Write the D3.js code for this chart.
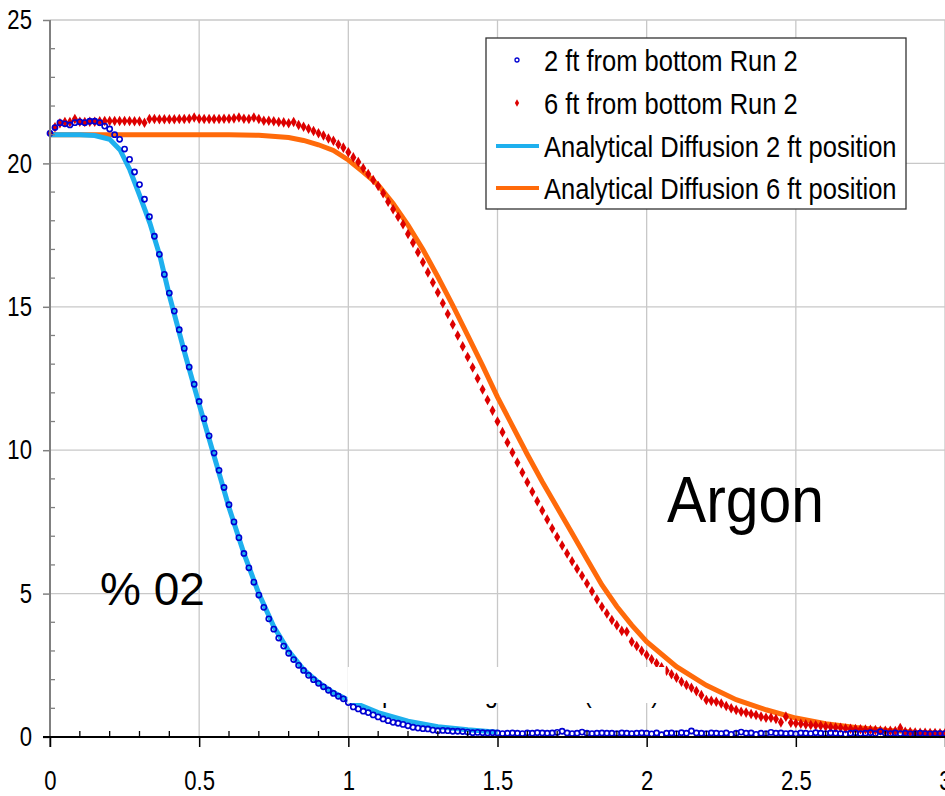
<!DOCTYPE html>
<html><head><meta charset="utf-8">
<script src="https://cdn.jsdelivr.net/npm/d3@7/dist/d3.min.js"></script>
<style>
html,body{margin:0;padding:0;background:#fff;}
svg{display:block;font-family:"Liberation Sans",Arial,sans-serif;}
</style></head>
<body><svg id="c" width="945" height="796"></svg>
<script>
// ---- data (time in hours, O2 %) ----
const sampleStep = 1/60; // one sample per minute
const ft2Run2 = [
21.05,21.25,21.42,21.38,21.34,21.42,21.45,21.42,21.47,21.47,
21.42,21.3,21.2,21.0,20.84,20.5,20.14,19.7,19.26,18.75,
18.14,17.46,16.83,16.13,15.48,14.85,14.2,13.55,12.9,12.3,
11.7,11.1,10.5,9.9,9.3,8.7,8.1,7.5,6.95,6.4,
5.9,5.4,4.95,4.52,4.12,3.76,3.45,3.17,2.92,2.7,
2.5,2.32,2.15,2.0,1.87,1.75,1.63,1.52,1.42,1.33,
1.2,1.05,0.98,0.9,0.85,0.77,0.7,0.63,0.57,0.51,
0.48,0.44,0.39,0.34,0.31,0.29,0.28,0.24,0.22,0.23,
0.22,0.2,0.2,0.19,0.17,0.15,0.16,0.15,0.14,0.15,
0.14,0.12,0.13,0.14,0.13,0.12,0.14,0.13,0.15,0.14,
0.13,0.14,0.16,0.2,0.14,0.12,0.13,0.17,0.13,0.12,
0.13,0.14,0.13,0.13,0.12,0.14,0.13,0.12,0.13,0.14,
0.13,0.11,0.14,0.08,0.13,0.14,0.12,0.15,0.13,0.21,
0.14,0.13,0.12,0.14,0.13,0.12,0.14,0.09,0.13,0.17,
0.13,0.14,0.09,0.13,0.12,0.16,0.13,0.14,0.12,0.13,
0.11,0.14,0.13,0.12,0.15,0.13,0.12,0.14,0.13,0.12,
0.1,0.13,0.14,0.12,0.13,0.15,0.12,0.19,0.13,0.12,
0.14,0.12,0.13,0.11,0.12,0.13,0.12,0.11,0.12,0.12,
0.12];
const ft6Run2 = [
21.05,21.26,21.4,21.44,21.44,21.55,21.45,21.44,21.45,21.45,
21.47,21.48,21.48,21.48,21.48,21.48,21.48,21.47,21.47,21.42,
21.55,21.55,21.54,21.54,21.54,21.54,21.55,21.55,21.56,21.6,
21.56,21.55,21.55,21.55,21.55,21.56,21.56,21.57,21.6,21.56,
21.55,21.6,21.55,21.49,21.49,21.47,21.44,21.43,21.4,21.44,
21.34,21.28,21.21,21.13,21.05,20.97,20.87,20.79,20.66,20.55,
20.39,20.21,20.05,19.83,19.63,19.42,19.21,18.96,18.66,18.4,
18.14,17.88,17.54,17.23,16.9,16.55,16.2,15.85,15.5,15.12,
14.75,14.38,14.0,13.62,13.25,12.88,12.5,12.12,11.75,11.38,
11.0,10.63,10.27,9.92,9.57,9.22,8.88,8.55,8.22,7.9,
7.58,7.27,6.97,6.68,6.4,6.13,5.87,5.62,5.35,5.08,
4.8,4.54,4.31,4.08,3.9,3.7,3.67,3.32,3.17,3.01,
2.86,2.71,2.57,2.43,2.31,2.19,2.07,1.93,1.81,1.72,
1.6,1.46,1.29,1.26,1.23,1.17,1.08,1.0,0.94,0.88,
0.85,0.8,0.77,0.71,0.67,0.67,0.63,0.51,0.71,0.5,
0.48,0.46,0.44,0.42,0.41,0.39,0.37,0.35,0.33,0.32,
0.3,0.29,0.28,0.27,0.26,0.25,0.24,0.23,0.22,0.22,
0.21,0.31,0.18,0.17,0.16,0.15,0.15,0.14,0.14,0.13,
0.13];
const diff2X = [0,0.1,0.15,0.2,0.235,0.268,0.302,0.335,0.369,0.4,0.45,0.5,0.55,0.6,0.65,0.7,0.75,0.8,0.85,0.9,0.95,1.0,1.1,1.2,1.3,1.4,1.5];
const diff2Y = [21.0,21.0,20.97,20.84,20.47,19.77,18.84,17.91,16.75,15.4,13.45,11.6,9.8,8.0,6.4,5.0,3.85,3.0,2.35,1.9,1.55,1.28,0.85,0.55,0.36,0.25,0.17];
const diff6X = [0,0.6,0.7,0.8,0.85,0.9,0.95,1.0,1.05,1.1,1.15,1.2,1.25,1.3,1.35,1.4,1.45,1.5,1.55,1.6,1.65,1.7,1.75,1.8,1.85,1.9,1.95,2.0,2.1,2.2,2.3,2.4,2.5,2.6,2.7,2.8,2.9,3.0];
const diff6Y = [21.0,21.0,20.98,20.9,20.8,20.65,20.45,20.12,19.7,19.25,18.6,17.85,17.0,16.05,15.05,14.0,12.95,11.85,10.85,9.85,8.9,8.0,7.1,6.2,5.3,4.55,3.9,3.32,2.45,1.8,1.3,0.95,0.66,0.46,0.33,0.24,0.17,0.13];
const seriesNames = ["2 ft from bottom Run 2","6 ft from bottom Run 2","Analytical Diffusion 2 ft position","Analytical Diffusion 6 ft position"];
const xTickValues = [0,0.5,1,1.5,2,2.5,3];
const yTickValues = [0,5,10,15,20,25];
const xTitle = ["Elapsed Mixing Time ","(hours)"];

// ---- drawing ----
const svg = d3.select("#c");
const x = d3.scaleLinear().domain([0,3]).range([50,945]);
const y = d3.scaleLinear().domain([0,25]).range([737,20]);
const cBlue="#0000D2", cRed="#DD0000", cCyan="#1EB0EE", cOrange="#FF6A0A";

// grid
svg.append("g").selectAll("line").data(xTickValues.filter(d=>d>0)).join("line")
  .attr("x1",d=>x(d)).attr("x2",d=>x(d)).attr("y1",y(25)).attr("y2",y(0))
  .attr("stroke","#c8c8c8").attr("stroke-width",1.3);
svg.append("g").selectAll("line").data(yTickValues.filter(d=>d>0)).join("line")
  .attr("x1",x(0)).attr("x2",x(3)).attr("y1",d=>y(d)).attr("y2",d=>y(d))
  .attr("stroke","#c8c8c8").attr("stroke-width",1.3);

// analytical lines
const line = d3.line().x(d=>x(d[0])).y(d=>y(d[1]));
svg.append("path").datum(diff6X.map((v,i)=>[v,diff6Y[i]])).attr("d",line)
  .attr("fill","none").attr("stroke",cOrange).attr("stroke-width",5);
svg.append("path").datum(diff2X.map((v,i)=>[v,diff2Y[i]])).attr("d",line)
  .attr("fill","none").attr("stroke",cCyan).attr("stroke-width",5);

// measured points
const diamond = d3.symbol().type(d3.symbolDiamond).size(32);
svg.append("g").selectAll("path").data(ft6Run2).join("path")
  .attr("d",diamond).attr("transform",(d,i)=>`translate(${x(i*sampleStep)},${y(d)})`)
  .attr("fill",cRed);
svg.append("g").selectAll("circle").data(ft2Run2).join("circle")
  .attr("cx",(d,i)=>x(i*sampleStep)).attr("cy",d=>y(d)).attr("r",2.6)
  .attr("fill","none").attr("stroke",cBlue).attr("stroke-width",1.6);

// x-axis title (mostly covered by a white box, as in the source)
const tt = svg.append("g").attr("transform",`translate(351,702) scale(0.85,1)`)
  .append("text").attr("font-size",28).attr("fill","#000");
tt.append("tspan").attr("letter-spacing",-1.3).text(xTitle[0]);
tt.append("tspan").attr("dx",34).text(xTitle[1]);
svg.append("rect").attr("x",347.5).attr("y",667).attr("width",318).attr("height",36).attr("fill","#fff");

// axes
const yMinor = d3.range(1,25).filter(d=>d%5!==0);
svg.append("g").selectAll("line").data(yMinor).join("line")
  .attr("x1",x(0)).attr("x2",x(0)+5).attr("y1",d=>y(d)).attr("y2",d=>y(d))
  .attr("stroke","#808080").attr("stroke-width",1.3);
const xMinor = d3.range(1,30).filter(d=>d%5!==0).map(d=>d/10);
svg.append("g").selectAll("line").data(xMinor).join("line")
  .attr("x1",d=>x(d)).attr("x2",d=>x(d)).attr("y1",y(0)).attr("y2",y(0)-6)
  .attr("stroke","#000").attr("stroke-width",1.3);

const ya = svg.append("g").attr("transform",`translate(${x(0)},0)`)
  .call(d3.axisLeft(y).tickValues(yTickValues).tickSize(7).tickPadding(11).tickFormat(d3.format("d")));
ya.select(".domain").attr("stroke","#808080").attr("stroke-width",2).attr("d",`M0,${y(25)}V${y(0)+10}`);
ya.selectAll(".tick line").attr("stroke","#808080").attr("stroke-width",1.5);
ya.selectAll("text").attr("font-size",27).attr("fill","#000").attr("font-family","Liberation Sans, Arial, sans-serif")
  .attr("x",-22).attr("transform","scale(0.82,1)");

const xa = svg.append("g").attr("transform",`translate(0,${y(0)})`)
  .call(d3.axisBottom(x).tickValues(xTickValues).tickSize(10).tickFormat(d=>String(d)));
xa.select(".domain").attr("stroke","#000").attr("stroke-width",2).attr("d",`M${x(0)-7},0H${x(3)}`);
xa.selectAll(".tick line").attr("stroke","#000").attr("stroke-width",1.5);
xa.selectAll("text").attr("font-size",27).attr("fill","#000").attr("font-family","Liberation Sans, Arial, sans-serif")
  .attr("y",53).attr("dy",0).attr("transform","scale(0.82,1)");

// legend
const lg = svg.append("g");
lg.append("rect").attr("x",486).attr("y",38).attr("width",420).attr("height",171)
  .attr("fill","#fff").attr("stroke","#333").attr("stroke-width",1.3);
const rows = [60,103,146,188];
lg.append("circle").attr("cx",517).attr("cy",rows[0]).attr("r",2).attr("fill","none").attr("stroke",cBlue).attr("stroke-width",1.3);
lg.append("path").attr("d",d3.symbol().type(d3.symbolDiamond).size(16)).attr("transform",`translate(517,${rows[1]})`).attr("fill",cRed);
lg.append("line").attr("x1",496).attr("x2",539).attr("y1",rows[2]).attr("y2",rows[2]).attr("stroke",cCyan).attr("stroke-width",4);
lg.append("line").attr("x1",496).attr("x2",539).attr("y1",rows[3]).attr("y2",rows[3]).attr("stroke",cOrange).attr("stroke-width",4);
seriesNames.forEach((s,i)=>{
  lg.append("g").attr("transform",`translate(544,${rows[i]+10.5}) scale(0.88,1)`)
    .append("text").attr("font-size",29).attr("fill","#000").text(s);
});

// annotations
svg.append("g").attr("transform","translate(667,522) scale(0.92,1)")
  .append("text").attr("font-size",64).attr("fill","#000").text("Argon");
svg.append("text").attr("x",100).attr("y",605).attr("font-size",46).attr("fill","#000").text("% 02");
</script></body></html>
